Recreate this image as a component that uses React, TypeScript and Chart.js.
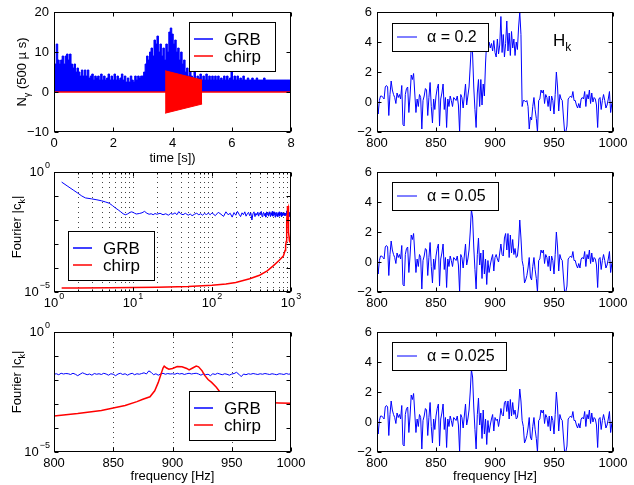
import React, { useEffect, useRef } from "react";
import { Chart, registerables } from "chart.js";
Chart.register(...registerables);

const PAGE_W = 634;
const PAGE_H = 485;
const FONT = '"Liberation Sans", Arial, Helvetica, sans-serif';
const BLUE = "#0000ff";
const RED = "#ff0000";

// ---------------- Panel 1: time series ----------------
const grbTimeStep = 0.05; // s
const grbCounts = [
  6, 7, 12, 8, 7, 8, 9, 7, 9, 9.5,
  8, 9.5, 7, 6, 7, 5, 6, 5, 4, 5.5,
  4, 5.5, 4, 5.5, 3.5, 4, 4.5, 3, 4, 3.5,
  4, 3, 4.5, 3, 4, 3, 3.5, 4.5, 3, 4,
  3, 4.5, 3, 4, 3, 3.5, 4.5, 3, 4, 2.5,
  3.5, 2.5, 4, 3, 2.5, 4, 3, 4, 3.5, 4,
  4, 5, 7, 9, 8, 10, 11, 9, 13, 12,
  14, 10, 12, 9, 11, 8, 12, 10, 15, 16,
  14.5, 12, 13, 10, 11, 8, 10, 7, 8, 5,
  6, 4, 5.5, 4, 3.5, 5, 3, 4, 3.5, 4.5,
  3, 4, 3, 4.5, 3, 4, 3, 4, 3, 4,
  3, 4, 3, 3.5, 3, 4, 3, 4, 3, 3.5,
  5.5, 3, 4, 3, 4, 3, 3.5, 3, 4, 3,
  3, 3.5, 3, 3, 3.5, 3, 3, 3.5, 3, 3,
  3, 3, 3.5, 3, 3, 3, 3, 3, 3, 3,
  3, 3, 3, 3, 3, 3, 3, 3, 3, 3,
  3,
];
const chirpTimes = [3.75, 5.0];
const chirpUpper = [5.3, 3.0];
const chirpLower = [-5.3, -3.0];
const timeRange = [0, 8];

// ---------------- Panel 2: Fourier spectrum (log-log), exponents of |c_k| ----------------
const lowFreqs = [
  1.25, 1.5, 1.75, 2, 2.25, 2.5, 3, 3.5, 4, 4.5, 5, 5.5, 6, 6.5, 7, 7.5, 8, 8.5, 9, 9.5,
  10, 10.5, 11, 12, 13, 14, 15, 16, 17, 18, 19, 20, 22, 24, 26, 28, 30, 32, 34, 36,
  38, 40, 43, 46, 50, 53, 56, 60, 64, 68, 72, 76, 80, 85, 90, 95,
];
const lowGrbExp = [
  -0.42, -0.6, -0.75, -0.88, -1.0, -1.08, -1.12, -1.16, -1.2, -1.25, -1.3, -1.4, -1.5, -1.58, -1.66, -1.74, -1.78, -1.75, -1.7, -1.66,
  -1.68, -1.72, -1.75, -1.73, -1.7, -1.64, -1.72, -1.76, -1.74, -1.78, -1.73, -1.76, -1.72, -1.78, -1.74, -1.8, -1.73, -1.76, -1.7, -1.78,
  -1.65, -1.74, -1.78, -1.72, -1.8, -1.75, -1.82, -1.76, -1.72, -1.78, -1.74, -1.8, -1.73, -1.77, -1.72, -1.78,
];
const midFreqStart = 100;
const midFreqStep = 10;
const midGrbExp = [
  -1.70, -1.82, -1.68, -1.76, -1.85, -1.66, -1.78, -1.72, -1.88, -1.69,
  -1.80, -1.64, -1.76, -1.86, -1.70, -1.78, -1.66, -1.84, -1.74, -1.68,
  -1.82, -1.70, -2.00, -1.74, -1.66, -1.86, -1.72, -1.80, -1.67, -1.84,
  -1.70, -1.78, -1.64, -1.86, -1.74, -1.68, -1.82, -1.72, -1.88, -1.66,
  -1.78, -1.70, -1.84, -1.66, -1.76, -1.86, -1.70, -1.80, -1.64, -1.84,
  -1.72, -1.78, -1.66, -1.88, -1.70, -1.82, -1.68, -1.76, -1.86, -1.70,
  -1.80, -1.66, -1.84, -1.72, -1.78, -1.68, -1.86, -1.70, -1.76, -1.82,
];
const lowChirpFreqs = [1.25, 2, 5, 10, 20, 50, 100, 150, 200, 300, 400, 500, 600, 700];
const lowChirpExp = [-4.83, -4.83, -4.82, -4.81, -4.8, -4.77, -4.72, -4.67, -4.6, -4.45, -4.3, -4.12, -3.9, -3.7];

// ---------------- Panel 3: Fourier spectrum 800-1000 Hz ----------------
const bandFreqStart = 800;
const bandFreqStep = 2;
const bandGrbExp = [
  -1.76, -1.74, -1.78, -1.72, -1.75, -1.73, -1.74, -1.77, -1.72, -1.76,
  -1.82, -1.76, -1.70, -1.74, -1.78, -1.75, -1.80, -1.73, -1.76, -1.74,
  -1.77, -1.72, -1.75, -1.80, -1.74, -1.76, -1.82, -1.75, -1.72, -1.77,
  -1.74, -1.80, -1.75, -1.72, -1.78, -1.74, -1.76, -1.73, -1.70, -1.75,
  -1.62, -1.68, -1.78, -1.74, -1.80, -1.75, -1.72, -1.76, -1.73, -1.75,
  -1.74, -1.76, -1.72, -1.75, -1.73, -1.77, -1.74, -1.72, -1.75, -1.73,
  -1.72, -1.75, -1.80, -1.74, -1.78, -1.76, -1.82, -1.74, -1.77, -1.72,
  -1.75, -1.78, -1.74, -1.76, -1.80, -1.75, -1.73, -1.68, -1.76, -1.86,
  -1.75, -1.78, -1.74, -1.76, -1.73, -1.75, -1.77, -1.74, -1.76, -1.73,
  -1.75, -1.77, -1.74, -1.76, -1.78, -1.74, -1.75, -1.77, -1.73, -1.76,
  -1.74,
];
const bandChirpFreqs = [
  800, 820, 840, 850, 860, 870, 875, 881, 885, 888, 890, 892, 893, 895, 897, 900, 904, 908, 912, 914,
  917, 920, 922, 925, 927, 930, 933, 937, 940, 945, 950, 960, 975, 990, 1000,
];
const bandChirpExp = [
  -3.5, -3.4, -3.27, -3.17, -3.06, -2.9, -2.8, -2.7, -2.45, -2.1, -1.8, -1.5, -1.42, -1.5, -1.55, -1.52, -1.44, -1.45, -1.52, -1.58,
  -1.5, -1.42, -1.45, -1.62, -1.8, -1.98, -2.1, -2.3, -2.5, -2.7, -2.8, -2.88, -2.93, -2.96, -2.97,
];

// ---------------- Panels 4-6: H_k for three alpha values ----------------
const hkFreqStart = 800;
const hkAlpha02 = [
  0.2, -0.8, 0.1, 0.4, 0.4, 0.3, 0.2, 1.0, 1.1, 1.0,
  -0.9, 0.5, 1.4, 0.8, 0.5, 0.3, -0.1, 0.6, 0.3, 0.5,
  0.2, 1.1, -1.5, -1.6, 0.5, 0.9, 1.0, -0.7, 0.4, 1.8,
  1.5, 1.9, 0.6, -0.7, 0.2, -0.3, 0.5, 0.3, -1.8, 0.1,
  0.4, 0.9, 0.8, -0.9, 0.3, 1.3, -0.3, -1.4, 0.2, -0.5,
  0.4, 0.9, 1.2, -1.6, 0.2, 0.6, 1.2, -0.5, 0.3, -1.7,
  0.2, -0.3, 0.4, 0.1, -0.3, 0.3, 0.2, 0.1, 0.4, -0.2,
  -2.0, 0.5, 0.3, -0.4, 0.4, 1.2, -0.2, 0.4, 1.0, 2.4,
  3.9, 3.2, 1.0, -0.5, -1.7, 0.6, 1.5, -0.3, 1.5, -0.2,
  1.2, 0.4, 2.6, 4.1, 3.8, 4.0, 3.6, 3.9, 3.4, 4.1,
  3.3, 3.0, 4.2, 3.2, 3.8, 5.7, 3.3, 4.5, 3.0, 3.9,
  5.4, 3.4, 4.6, 3.1, 4.7, 3.6, 4.2, 3.1, 4.0, 3.5,
  5.0, 6.0, 4.5, -0.3, 0.1, 0.1, 0.0, 0.1, -0.3, -1.8,
  -1.0, -1.2, -0.3, 0.3, -0.5, -1.1, -2.0, 0.1, 0.2, 0.8,
  0.6, 0.8, -0.1, 0.5, 0.3, -0.3, 0.4, -0.6, 0.4, 0.1,
  -0.8, 0.5, 2.0, 1.0, -0.6, 0.5, 0.2, 0.1, -1.0, -2.0,
  -2.0, -1.6, 0.2, 0.3, 0.4, 0.3, 0.7, 0.1, 0.1, -0.2,
  -0.4, -0.1, -0.4, 0.2, 0.3, 0.2, 0.7, -0.3, 0.5, 0.2,
  0.8, -0.1, 0.6, 0.0, 0.3, 0.2, -0.2, -1.7, 0.2, 0.3,
  -0.5, 0.1, 0.5, 0.1, -0.4, -0.2, 0.2, 0.7, -0.7, -0.1,
  0.3,
];
const hkAlpha005 = [
  0.2, -0.8, 0.1, 0.4, 0.4, 0.3, 0.2, 1.0, 1.1, 1.0,
  -0.9, 0.5, 1.4, 0.8, 0.5, 0.3, -0.1, 0.6, 0.3, 0.5,
  0.2, 1.1, -1.5, -1.6, 0.5, 0.9, 1.0, -0.7, 0.4, 1.8,
  1.5, 1.9, 0.6, -0.7, 0.2, -0.3, 0.5, 0.3, -1.8, 0.1,
  0.4, 0.9, 0.8, -0.9, 0.3, 1.3, -0.3, -1.4, 0.2, -0.5,
  0.4, 0.9, 1.2, -1.6, 0.2, 0.6, 1.2, -0.5, 0.3, -1.7,
  0.2, -0.3, 0.4, 0.1, -0.3, 0.3, 0.2, 0.1, 0.4, -0.2,
  -2.0, 0.5, 0.3, -0.4, 0.4, 1.2, -0.2, 0.2, 0.8, 2.0,
  3.5, 3.0, 1.0, -0.5, -1.8, 0.5, 1.6, -0.2, 0.6, -1.1,
  0.8, -0.8, 0.2, -1.5, 0.1, -0.7, -0.2, 0.2, 0.5, -0.6,
  0.3, 0.5, 0.2, 0.0, 0.6, 1.2, 0.5, 0.4, 1.6, 1.9,
  0.8, 1.9, 0.3, 1.8, 0.6, 1.5, 0.5, 0.9, 0.3, 0.4,
  1.2, 2.8, 1.6, 0.1, -0.3, -1.4, -1.2, -0.9, -0.4, 0.3,
  -1.0, -1.2, -0.3, 0.3, -0.5, -1.1, -2.0, 0.1, 0.2, 0.8,
  0.6, 0.8, -0.1, 0.5, 0.3, -0.3, 0.4, -0.6, 0.4, 0.1,
  -0.8, 0.5, 2.0, 1.0, -0.6, 0.5, 0.2, 0.1, -1.0, -2.0,
  -2.0, -1.6, 0.2, 0.3, 0.4, 0.3, 0.7, 0.1, 0.1, -0.2,
  -0.4, -0.1, -0.4, 0.2, 0.3, 0.2, 0.7, -0.3, 0.5, 0.2,
  0.8, -0.1, 0.6, 0.0, 0.3, 0.2, -0.2, -1.7, 0.2, 0.3,
  -0.5, 0.1, 0.5, 0.1, -0.4, -0.2, 0.2, 0.7, -0.7, -0.1,
  0.3,
];
const hkAlpha0025 = [
  0.2, -0.8, 0.1, 0.4, 0.4, 0.3, 0.2, 1.0, 1.1, 1.0,
  -0.9, 0.5, 1.4, 0.8, 0.5, 0.3, -0.1, 0.6, 0.3, 0.5,
  0.2, 1.1, -1.5, -1.6, 0.5, 0.9, 1.0, -0.7, 0.4, 1.8,
  1.5, 1.9, 0.6, -0.7, 0.2, -0.3, 0.5, 0.3, -1.8, 0.1,
  0.4, 0.9, 0.8, -0.9, 0.3, 1.3, -0.3, -1.4, 0.2, -0.5,
  0.4, 0.9, 1.2, -1.6, 0.2, 0.6, 1.2, -0.5, 0.3, -1.7,
  0.2, -0.3, 0.4, 0.1, -0.3, 0.3, 0.2, 0.1, 0.4, -0.2,
  -2.0, 0.5, 0.3, -0.4, 0.4, 1.2, -0.2, 0.2, 0.8, 2.0,
  3.5, 3.0, 1.0, -0.5, -1.8, 0.5, 1.6, -0.2, 0.6, -1.1,
  0.8, -0.8, 0.2, -1.5, 0.1, -0.7, -0.2, 0.2, 0.5, -0.6,
  0.3, 0.1, 0.2, -0.3, 0.2, 0.9, 0.5, 0.4, 1.3, 1.4,
  0.7, 1.4, 0.2, 1.5, 0.4, 1.3, 0.5, 0.8, 0.2, 0.3,
  1.0, 2.2, 1.4, 0.1, -0.3, -1.4, -1.2, -0.9, -0.4, 0.3,
  -1.0, -1.2, -0.3, 0.3, -0.5, -1.1, -2.0, 0.1, 0.2, 0.8,
  0.6, 0.8, -0.1, 0.5, 0.3, -0.3, 0.4, -0.6, 0.4, 0.1,
  -0.8, 0.5, 2.0, 1.0, -0.6, 0.5, 0.2, 0.1, -1.0, -2.0,
  -2.0, -1.6, 0.2, 0.3, 0.4, 0.3, 0.7, 0.1, 0.1, -0.2,
  -0.4, -0.1, -0.4, 0.2, 0.3, 0.2, 0.7, -0.3, 0.5, 0.2,
  0.8, -0.1, 0.6, 0.0, 0.3, 0.2, -0.2, -1.7, 0.2, 0.3,
  -0.5, 0.1, 0.5, 0.1, -0.4, -0.2, 0.2, 0.7, -0.7, -0.1,
  0.3,
];

// tick labels
const timeTicks = [0, 2, 4, 6, 8];
const countTicks = [-10, 0, 10, 20];
const freqTicks = [800, 850, 900, 950, 1000];
const hkTicks = [-2, 0, 2, 4, 6];
const logFreqMajor = [1, 10, 100, 1000];
const logFreqExpLabels = ["0", "1", "2", "3"];
const logAmpMajor = [1, 1e-1, 1e-2, 1e-3, 1e-4, 1e-5];

// ---------------- helpers ----------------
const pts = (xs: number[], ys: number[]) => ys.map((y, i) => ({ x: xs[i], y }));
const pow10 = (e: number[]) => e.map((v) => Math.pow(10, v));
const uniform = (start: number, step: number, n: number) => Array.from({ length: n }, (_, i) => start + i * step);
const fmt = (v: number) => (v < 0 ? "\u2212" + Math.abs(v) : String(v));

type Seg = { t: string; sub?: boolean };

function drawSegs(ctx: any, segs: Seg[], size: number) {
  let w = 0;
  for (const s of segs) {
    ctx.font = `${s.sub ? Math.round(size * 0.7) : size}px ${FONT}`;
    w += ctx.measureText(s.t).width;
  }
  return w;
}
function renderSegs(ctx: any, segs: Seg[], size: number, x0: number, y: number) {
  let x = x0;
  ctx.textAlign = "left";
  ctx.textBaseline = "alphabetic";
  for (const s of segs) {
    ctx.font = `${s.sub ? Math.round(size * 0.7) : size}px ${FONT}`;
    ctx.fillText(s.t, x, s.sub ? y + size * 0.3 : y);
    x += ctx.measureText(s.t).width;
  }
}

function makeDecor(spec: any) {
  return {
    id: "decor",
    beforeDatasetsDraw(chart: any) {
      const { ctx, chartArea: a } = chart;
      const xs = chart.scales.x;
      if (spec.xGrid) {
        ctx.save();
        ctx.strokeStyle = "#444";
        ctx.lineWidth = 1;
        ctx.setLineDash([1, 4]);
        for (const v of spec.xGrid) {
          const px = Math.round(xs.getPixelForValue(v)) + 0.5;
          ctx.beginPath();
          ctx.moveTo(px, a.top);
          ctx.lineTo(px, a.bottom);
          ctx.stroke();
        }
        ctx.restore();
      }
    },
    afterDatasetsDraw(chart: any) {
      const { ctx, chartArea: a } = chart;
      const xs = chart.scales.x;
      const ys = chart.scales.y;
      ctx.save();
      ctx.strokeStyle = "#000";
      ctx.fillStyle = "#000";
      ctx.lineWidth = 1;
      const L = Math.round(a.left) + 0.5;
      const R = Math.round(a.right) - 0.5;
      const T = Math.round(a.top) + 0.5;
      const B = Math.round(a.bottom) - 0.5;
      const seg = (x1: number, y1: number, x2: number, y2: number) => {
        ctx.beginPath();
        ctx.moveTo(x1, y1);
        ctx.lineTo(x2, y2);
        ctx.stroke();
      };
      const xt = (vals: number[], len: number) => {
        for (const v of vals) {
          const px = Math.round(xs.getPixelForValue(v)) + 0.5;
          seg(px, B, px, B - len);
          seg(px, T, px, T + len);
        }
      };
      const yt = (vals: number[], len: number) => {
        for (const v of vals) {
          const py = Math.round(ys.getPixelForValue(v)) + 0.5;
          seg(L, py, L + len, py);
          seg(R, py, R - len, py);
        }
      };
      xt(spec.xTicks.map((t: any) => t.v), 4);
      yt(spec.yTicks.map((t: any) => t.v), 4);
      if (spec.xMinor) xt(spec.xMinor, 2);
      ctx.strokeRect(L, T, R - L, B - T);

      const TS = 13;
      const drawPow = (exp: string, x: number, y: number, align: string) => {
        ctx.font = `${TS}px ${FONT}`;
        const w1 = ctx.measureText("10").width;
        ctx.font = `9px ${FONT}`;
        const w2 = ctx.measureText(exp).width;
        const tot = w1 + w2 + 1;
        const x0 = align === "center" ? x - tot / 2 : x - tot;
        ctx.textAlign = "left";
        ctx.textBaseline = "middle";
        ctx.font = `${TS}px ${FONT}`;
        ctx.fillText("10", x0, y);
        ctx.font = `9px ${FONT}`;
        ctx.fillText(exp, x0 + w1 + 1, y - 6);
      };
      for (const t of spec.xTicks) {
        if (t.label == null) continue;
        const px = xs.getPixelForValue(t.v);
        if (t.exp != null) {
          drawPow(t.exp, px, a.bottom + 11, "center");
        } else {
          ctx.font = `${TS}px ${FONT}`;
          ctx.textAlign = "center";
          ctx.textBaseline = "middle";
          ctx.fillText(t.label, px, a.bottom + 11);
        }
      }
      for (const t of spec.yTicks) {
        if (t.label == null) continue;
        const py = ys.getPixelForValue(t.v);
        if (t.exp != null) {
          drawPow(t.exp, a.left - 4, py, "right");
        } else {
          ctx.font = `${TS}px ${FONT}`;
          ctx.textAlign = "right";
          ctx.textBaseline = "middle";
          ctx.fillText(t.label, a.left - 5, py);
        }
      }

      if (spec.xTitle) {
        ctx.font = `13px ${FONT}`;
        ctx.textAlign = "center";
        ctx.textBaseline = "alphabetic";
        ctx.fillText(spec.xTitle, (a.left + a.right) / 2, spec.xTitleY);
      }
      if (spec.yTitle) {
        const w = drawSegs(ctx, spec.yTitle, 13);
        ctx.save();
        ctx.translate(spec.yTitleX, spec.yTitleCY);
        ctx.rotate(-Math.PI / 2);
        renderSegs(ctx, spec.yTitle, 13, -w / 2, 0);
        ctx.restore();
      }

      const lg = spec.legend;
      if (lg) {
        ctx.fillStyle = "#fff";
        ctx.fillRect(lg.x0, lg.y0, lg.x1 - lg.x0, lg.y1 - lg.y0);
        ctx.strokeStyle = "#000";
        ctx.lineWidth = 1;
        ctx.strokeRect(lg.x0 + 0.5, lg.y0 + 0.5, lg.x1 - lg.x0 - 1, lg.y1 - lg.y0 - 1);
        for (const e of lg.items) {
          ctx.strokeStyle = e.color;
          ctx.lineWidth = lg.lw;
          seg(lg.lx0, e.y, lg.lx1, e.y);
          ctx.fillStyle = "#000";
          ctx.font = `${lg.size}px ${FONT}`;
          ctx.textAlign = "left";
          ctx.textBaseline = "middle";
          ctx.fillText(e.label, lg.tx, e.y + 1);
        }
      }
      if (spec.extra) {
        ctx.fillStyle = "#000";
        renderSegs(ctx, spec.extra.segs, spec.extra.size, spec.extra.x, spec.extra.y);
      }
      ctx.restore();
    },
  };
}

function baseOptions(area: number[], xScale: any, yScale: any) {
  const [l, t, r, b] = area;
  return {
    animation: false,
    responsive: false,
    devicePixelRatio: 1,
    events: [],
    layout: { padding: { left: l, top: t, right: PAGE_W - r, bottom: PAGE_H - b } },
    plugins: { legend: { display: false }, tooltip: { enabled: false } },
    scales: { x: { ...xScale, display: false }, y: { ...yScale, display: false } },
  };
}

const line = (data: any[], color: string, width: number, extra: any = {}) => ({
  data,
  borderColor: color,
  backgroundColor: color,
  borderWidth: width,
  pointRadius: 0,
  tension: 0,
  fill: false,
  ...extra,
});

function buildConfigs() {
  const grbT = uniform(0, grbTimeStep, grbCounts.length);
  const midFreqs = uniform(midFreqStart, midFreqStep, midGrbExp.length);
  const bandFreqs = uniform(bandFreqStart, bandFreqStep, bandGrbExp.length);
  const hkF = uniform(hkFreqStart, 1, hkAlpha0025.length);

  const linTicks = (vals: number[]) => vals.map((v) => ({ v, label: fmt(v) }));
  const logYTicks = logAmpMajor.map((v) => ({
    v,
    label: v === 1 || v === 1e-5 ? "x" : null,
    exp: v === 1 ? "0" : v === 1e-5 ? "\u22125" : null,
  }));
  const xMinorLog: number[] = [];
  for (const d of [1, 10, 100]) for (let k = 2; k <= 9; k++) xMinorLog.push(d * k);

  const grbLegend = (x0: number, y0: number) => ({
    x0, y0, x1: x0 + 87, y1: y0 + 50, lx0: x0 + 5, lx1: x0 + 24, tx: x0 + 35, size: 17, lw: 1.5,
    items: [
      { label: "GRB", color: BLUE, y: y0 + 17 },
      { label: "chirp", color: RED, y: y0 + 34 },
    ],
  });
  const alphaLegend = (y0: number, w: number, label: string) => ({
    x0: 392, y0, x1: 392 + w, y1: y0 + 29, lx0: 397, lx1: 417, tx: 427, size: 16, lw: 1,
    items: [{ label, color: BLUE, y: y0 + 14 }],
  });

  const fourierTitle: Seg[] = [{ t: "Fourier |c" }, { t: "k", sub: true }, { t: "|" }];

  const configs: any[] = [];

  configs.push({
    type: "line",
    data: {
      datasets: [
        line(pts(chirpTimes, chirpUpper), RED, 1, { fill: "+1" }),
        line(pts(chirpTimes, chirpLower), RED, 1),
        line(pts(timeRange, [0, 0]), RED, 1.5),
        line(pts(grbT, grbCounts), BLUE, 1, { fill: "origin", stepped: "middle" }),
      ],
    },
    options: baseOptions([54, 12, 291, 132], { type: "linear", min: 0, max: 8 }, { type: "linear", min: -10, max: 20 }),
    plugins: [
      makeDecor({
        xTicks: linTicks(timeTicks),
        yTicks: linTicks(countTicks),
        xTitle: "time [s])",
        xTitleY: 162,
        yTitle: [{ t: "N" }, { t: "\u03b3", sub: true }, { t: " (500 \u00b5 s)" }],
        yTitleX: 26,
        yTitleCY: 72,
        legend: grbLegend(189, 22),
      }),
    ],
  });

  configs.push({
    type: "line",
    data: {
      datasets: [
        line(pts([...lowChirpFreqs, ...bandChirpFreqs], pow10([...lowChirpExp, ...bandChirpExp])), RED, 1.5),
        line(pts([...lowFreqs, ...midFreqs, ...bandFreqs], pow10([...lowGrbExp, ...midGrbExp, ...bandGrbExp])), BLUE, 1),
      ],
    },
    options: baseOptions([54, 172, 291, 292], { type: "logarithmic", min: 1, max: 1000 }, { type: "logarithmic", min: 1e-5, max: 1 }),
    plugins: [
      makeDecor({
        xTicks: logFreqMajor.map((v, i) => ({ v, label: "x", exp: logFreqExpLabels[i] })),
        xMinor: xMinorLog,
        xGrid: [...xMinorLog, 10, 100],
        yTicks: logYTicks,
        yTitle: fourierTitle,
        yTitleX: 21,
        yTitleCY: 227,
        legend: grbLegend(68, 231),
      }),
    ],
  });

  configs.push({
    type: "line",
    data: {
      datasets: [
        line(pts(bandChirpFreqs, pow10(bandChirpExp)), RED, 1.5),
        line(pts(bandFreqs, pow10(bandGrbExp)), BLUE, 1),
      ],
    },
    options: baseOptions([54, 332, 291, 452], { type: "linear", min: 800, max: 1000 }, { type: "logarithmic", min: 1e-5, max: 1 }),
    plugins: [
      makeDecor({
        xTicks: linTicks(freqTicks),
        xGrid: [850, 900, 950],
        yTicks: logYTicks,
        xTitle: "frequency [Hz]",
        xTitleY: 480,
        yTitle: fourierTitle,
        yTitleX: 21,
        yTitleCY: 382,
        legend: grbLegend(189, 391),
      }),
    ],
  });

  const hkPanels = [
    { top: 12, data: hkAlpha02, legend: alphaLegend(23, 97, "\u03b1 = 0.2"), extra: true, xTitle: false },
    { top: 172, data: hkAlpha005, legend: alphaLegend(182, 107, "\u03b1 = 0.05"), extra: false, xTitle: false },
    { top: 332, data: hkAlpha0025, legend: alphaLegend(342, 115, "\u03b1 = 0.025"), extra: false, xTitle: true },
  ];
  for (const p of hkPanels) {
    configs.push({
      type: "line",
      data: { datasets: [line(pts(hkF, p.data), BLUE, 1)] },
      options: baseOptions([377, p.top, 613, p.top + 120], { type: "linear", min: 800, max: 1000 }, { type: "linear", min: -2, max: 6 }),
      plugins: [
        makeDecor({
          xTicks: linTicks(freqTicks),
          yTicks: linTicks(hkTicks),
          xTitle: p.xTitle ? "frequency [Hz]" : null,
          xTitleY: 480,
          legend: p.legend,
          extra: p.extra ? { segs: [{ t: "H" }, { t: "k", sub: true }], size: 17, x: 553, y: 46 } : null,
        }),
      ],
    });
  }
  return configs;
}

export default function App() {
  const refs = useRef<(HTMLCanvasElement | null)[]>([]);
  useEffect(() => {
    const configs = buildConfigs();
    const charts = configs.map((cfg, i) => new Chart(refs.current[i] as HTMLCanvasElement, cfg));
    return () => charts.forEach((c) => c.destroy());
  }, []);
  return (
    <div style={{ position: "fixed", left: 0, top: 0, width: PAGE_W, height: PAGE_H, background: "#fff" }}>
      {[0, 1, 2, 3, 4, 5].map((i) => (
        <canvas
          key={i}
          ref={(el) => {
            refs.current[i] = el;
          }}
          width={PAGE_W}
          height={PAGE_H}
          style={{ position: "absolute", left: 0, top: 0, width: PAGE_W, height: PAGE_H }}
        />
      ))}
    </div>
  );
}
